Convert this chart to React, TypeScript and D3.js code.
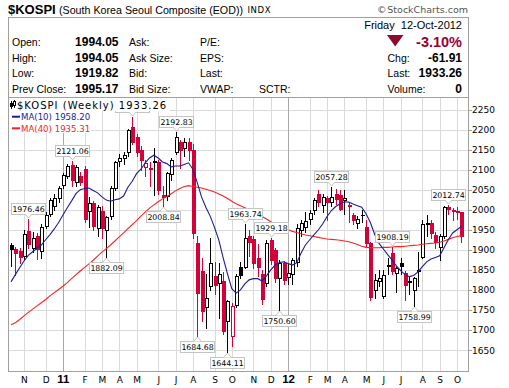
import React from "react";
import * as d3 from "d3";

// Weekly bars, first week starting Monday 11-Oct-2010
const firstMonday = new Date(2010, 9, 11);
const priorClose = 1890;

const opens = [
  1911, 1902, 1897, 1885, 1946, 1905, 1935, 1898, 1960, 1990,
  2010, 2028, 2062, 2085, 2112, 2070, 2085, 2102, 1998, 2016,
  1955, 1998, 1950, 1985, 2055, 2122, 2128, 2143, 2207, 2182,
  2150, 2107, 2104, 2118, 2120, 2036, 2033, 2088, 2144, 2170,
  2153, 2168, 2150, 1917, 1846, 1757, 1809, 1835, 1817, 1821,
  1722, 1685, 1763, 1858, 1858, 1935, 1928, 1880, 1840, 1817,
  1925, 1900, 1829, 1866, 1833, 1840, 1870, 1950, 1958, 1978,
  2000, 2040, 2012, 2028, 2020, 2040, 2036, 2024, 2012, 1988,
  1966, 1987, 1958, 1916, 1800, 1821, 1784, 1860, 1892, 1842,
  1867, 1842, 1820, 1800, 1848, 1883, 1965, 1968, 1937, 1906,
  1935, 2006, 2000, 1997, 1994.05,
];
const highs = [
  1918, 1906, 1905, 1950, 1976.46, 1945, 1942, 1965, 1995, 2030,
  2038, 2058, 2092, 2115, 2121.06, 2112, 2095, 2108, 2032, 2022,
  2012, 2010, 1985, 2058, 2122, 2138, 2145, 2202, 2231.47, 2190,
  2158, 2125, 2120, 2154, 2125, 2060, 2095, 2128, 2192.83, 2175,
  2180, 2178, 2165, 1935, 1880, 1840, 1930, 1870, 1867, 1845,
  1775, 1768, 1840, 1870, 1963.74, 1950, 1935, 1915, 1850, 1925,
  1929.18, 1905, 1875, 1872, 1865, 1880, 1965, 1975, 1995, 2000,
  2030, 2048, 2040, 2035, 2057.28, 2052, 2048, 2050, 2020, 1992,
  1985, 2000, 1975, 1920, 1840, 1850, 1850, 1880, 1908.19, 1860,
  1880, 1848, 1835, 1832, 1895, 1975, 1987, 1975, 1945, 1940,
  2010, 2012.74, 2005, 2008, 1994.05,
];
const lows = [
  1860, 1838, 1868, 1878, 1905, 1895, 1878, 1880, 1955, 1985,
  2000, 2020, 2055, 2078, 2060, 2058, 2062, 1970, 1958, 1950,
  1935, 1930, 1882.09, 1978, 2050, 2110, 2115, 2135, 2165, 2135,
  2100, 2085, 2060, 2037, 2040, 2008.84, 2025, 2075, 2140, 2105,
  2135, 2125, 1930, 1684.68, 1722, 1705, 1800, 1790, 1730, 1690,
  1644.11, 1660, 1758, 1830, 1855, 1885, 1855, 1835, 1765, 1810,
  1865, 1820, 1750.6, 1815, 1815, 1815, 1860, 1935, 1945, 1965,
  1990, 2010, 1995, 1974, 2010, 2015, 2000, 1990, 1970, 1965,
  1955, 1970, 1910, 1775, 1780, 1810, 1780, 1840, 1840, 1795,
  1840, 1775, 1790, 1758.99, 1810, 1880, 1935, 1930, 1905, 1875,
  1930, 1990, 1975, 1978, 1919.82,
];
const closes = [
  1902, 1893, 1883, 1940, 1915, 1930, 1901, 1958, 1987, 2024,
  2030, 2053, 2086, 2108, 2075, 2107, 2070, 1978, 2016, 1960,
  2006, 1955, 1982, 2053, 2119, 2130, 2137, 2198, 2170, 2145,
  2124, 2116, 2102, 2121, 2048, 2032, 2091, 2124, 2182, 2148,
  2170, 2148, 1943, 1793, 1747, 1780, 1867, 1813, 1840, 1697,
  1771, 1759, 1834, 1838, 1929, 1920, 1868, 1858, 1776, 1916,
  1875, 1830, 1866, 1825, 1843, 1875, 1955, 1966, 1972, 1993,
  2024, 2020, 2032, 2020, 2032, 2026, 2003, 2029, 2010, 1974,
  1976, 1988, 1916, 1782, 1825, 1830, 1836, 1862, 1846, 1854,
  1859, 1813, 1821, 1829, 1849, 1965, 1966, 1941, 1920, 1935,
  2007, 2003, 1996, 1995.17, 1933.26,
];
const ma10 = [
  1820, 1838, 1855, 1872, 1886, 1895, 1904, 1912, 1925, 1938,
  1952, 1968, 1987, 2005, 2022, 2040, 2050, 2053, 2054, 2048,
  2042, 2032, 2024, 2021, 2025, 2027, 2034, 2056, 2071, 2090,
  2101, 2117, 2129, 2136, 2129, 2119, 2115, 2107, 2109, 2109,
  2113, 2117, 2101, 2068, 2032, 2006, 1984, 1956, 1924, 1880,
  1840, 1803, 1792, 1800, 1815, 1825, 1828, 1828, 1822, 1835,
  1850, 1862, 1868, 1870, 1866, 1862, 1868, 1892, 1912, 1925,
  1938, 1950, 1965, 1983, 1998, 2008, 2015, 2020, 2019, 2014,
  2010, 2006, 1990, 1968, 1938, 1916, 1902, 1888, 1875, 1860,
  1848, 1838, 1833, 1836, 1845, 1858, 1870, 1877, 1881, 1885,
  1905, 1925, 1942, 1950, 1958.2,
];
const ma40 = [
  1713, 1718, 1726, 1735, 1744, 1752, 1760, 1768, 1776, 1785,
  1793, 1801, 1809, 1818, 1828, 1838, 1847, 1856, 1865, 1874,
  1884, 1894, 1903, 1912, 1922, 1932, 1942, 1953, 1963, 1973,
  1984, 1994, 2004, 2012, 2020, 2027, 2033, 2040, 2047, 2053,
  2058, 2060, 2058, 2056, 2054, 2051, 2048, 2044, 2039, 2034,
  2028, 2021, 2015, 2010, 2005, 2000, 1995, 1989, 1983, 1977,
  1970, 1964, 1958, 1954, 1950, 1946, 1943, 1940, 1937, 1935,
  1933, 1931, 1929, 1927, 1926, 1925, 1924, 1922, 1920, 1917,
  1913, 1909, 1906, 1905, 1905, 1905, 1906, 1906, 1907, 1908,
  1908, 1909, 1910, 1911, 1912, 1914, 1915, 1916, 1917, 1919,
  1922, 1926, 1930, 1933, 1935.31,
];
const highLabelWeeks = [4, 14, 38, 54, 60, 74, 88, 101];
const hiddenHighWeek = 28; // its label sits under the legend; only the pointer shows
const lowLabelWeeks = [22, 35, 43, 50, 62, 93];
const yTicks = [1650, 1700, 1750, 1800, 1850, 1900, 1950, 2000, 2050, 2100, 2150, 2200, 2250];
const monthLetters = ["J", "F", "M", "A", "M", "J", "J", "A", "S", "O", "N", "D"];

const RED = "#d4003a";
const BLACK = "#000000";
const NAVY = "#1c1c96";
const MA_RED = "#ff2020";
const GRID = "#dadada";
const YEAR_GRID = "#a8a8a8";
const SANS = "'Liberation Sans', Arial, sans-serif";
const VERD = "'DejaVu Sans', Verdana, sans-serif";

const L = 8.5, R = 468.5, T = 97.5, B = 371.5;

function Annotation({ cx, py, text, high }: { cx: number; py: number; text: string; high: boolean }) {
  const w = 34, h = 11;
  const bx = Math.round(cx - w / 2) + 0.5;
  const tip = high ? Math.round(py) - 1 : Math.round(py) + 1;
  const by = high ? tip - 4 - h : tip + 4;
  const baseY = high ? tip - 4 : tip + 4;
  const c = Math.round(cx) + 0.5;
  return (
    <g>
      <rect x={bx} y={Math.round(by) + 0.5} width={w} height={h} fill="#fff" stroke="#c4c4c4" />
      <polygon points={`${c - 3.5},${baseY + (high ? -0.5 : 0.5)} ${c},${tip} ${c + 3.5},${baseY + (high ? -0.5 : 0.5)}`} fill="#fff" stroke="none" />
      <polyline points={`${c - 3.5},${baseY} ${c},${tip} ${c + 3.5},${baseY}`} fill="none" stroke="#c4c4c4" />
      {text ? (
        <text x={bx + w / 2} y={Math.round(by) + 9} textAnchor="middle" fontFamily={VERD} fontSize={7.8} fill="#000">
          {text}
        </text>
      ) : null}
    </g>
  );
}

export default function App() {
  const n = closes.length;
  const x = d3.scaleLinear().domain([0, n - 1]).range([11, 461.3]);
  const y = d3.scaleLinear().domain([1650, 2250]).range([350, 109.5]);
  const dates = d3.range(n).map((i) => d3.timeDay.offset(firstMonday, 7 * i));
  const monthIdx = dates
    .map((d, i) => (i > 0 && d.getMonth() !== dates[i - 1].getMonth() ? i : -1))
    .filter((i) => i >= 0);

  const line = d3
    .line<number>()
    .x((_, i) => x(i))
    .y((d) => y(d))
    .curve(d3.curveLinear);

  const fmt = d3.format(".2f");

  return (
    <svg width={509} height={388} style={{ position: "absolute", left: 0, top: 0, background: "#fff" }}>
      <rect x={0} y={0} width={509} height={388} fill="#fff" />
      {/* Title */}
      <text x={8} y={13.5} fontFamily={SANS} fontWeight="bold" fontSize={13}>$KOSPI</text>
      <text x={59} y={13.5} fontFamily={SANS} fontSize={10.5} textLength={184} lengthAdjust="spacingAndGlyphs">
        (South Korea Seoul Composite (EOD))
      </text>
      <text x={247.5} y={13} fontFamily={VERD} fontSize={8.5} letterSpacing={0.6}>INDX</text>
      <text x={377} y={13} fontFamily={VERD} fontSize={9.5} fill="#555">©</text>
      <text x={468} y={13} textAnchor="end" fontFamily={VERD} fontSize={9.5} fill="#555">StockCharts.com</text>

      {/* Header box */}
      <rect x={8.5} y={17.5} width={460} height={80} fill="#fff" stroke="#a0a0a0" />
      <text x={462} y={29} textAnchor="end" fontFamily={SANS} fontSize={11} style={{ whiteSpace: "pre" }}>
        {"Friday  12-Oct-2012"}
      </text>
      {[
        ["Open:", "1994.05", "Ask:", "P/E:"],
        ["High:", "1994.05", "Ask Size:", "EPS:"],
        ["Low:", "1919.82", "Bid:", "Last:"],
        ["Prev Close:", "1995.17", "Bid Size:", "VWAP:"],
      ].map((row, r) => {
        const by = 46 + r * 15.6;
        return (
          <g key={r} fontFamily={SANS}>
            <text x={12} y={by} fontSize={10.5}>{row[0]}</text>
            <text x={118.5} y={by} fontSize={12} fontWeight="bold" textAnchor="end">{row[1]}</text>
            <text x={129} y={by} fontSize={10.5}>{row[2]}</text>
            <text x={200} y={by} fontSize={10.5}>{row[3]}</text>
          </g>
        );
      })}
      <text x={259} y={46 + 3 * 15.6} fontFamily={SANS} fontSize={10.5}>SCTR:</text>
      <polygon points="387,35 403.5,35 395.2,46.5" fill="#8c0a2e" />
      <text x={462} y={46.5} textAnchor="end" fontFamily={SANS} fontSize={14.5} fontWeight="bold" fill="#990033">-3.10%</text>
      {[
        ["Chg:", "-61.91"],
        ["Last:", "1933.26"],
        ["Volume:", "0"],
      ].map((row, r) => {
        const by = 46 + (r + 1) * 15.6;
        return (
          <g key={r} fontFamily={SANS}>
            <text x={387.5} y={by} fontSize={10.5}>{row[0]}</text>
            <text x={462} y={by} fontSize={12} fontWeight="bold" textAnchor="end">{row[1]}</text>
          </g>
        );
      })}

      {/* Plot area */}
      <defs>
        <clipPath id="plotclip">
          <rect x={L} y={T} width={R - L} height={B - T} />
        </clipPath>
      </defs>
      <rect x={L} y={T} width={R - L} height={B - T} fill="#fff" />
      <g shapeRendering="crispEdges">
        {yTicks.map((v) => (
          <line key={v} x1={L} x2={R} y1={Math.round(y(v)) + 0.5} y2={Math.round(y(v)) + 0.5} stroke={GRID} />
        ))}
        {monthIdx.map((i) => (
          <line
            key={i}
            x1={Math.round(x(i)) + 0.5}
            x2={Math.round(x(i)) + 0.5}
            y1={T}
            y2={B}
            stroke={dates[i].getMonth() === 0 ? YEAR_GRID : GRID}
          />
        ))}
      </g>

      {/* Candles */}
      <g clipPath="url(#plotclip)" shapeRendering="crispEdges">
        {closes.map((c, i) => {
          const o = opens[i];
          const prev = i === 0 ? priorClose : closes[i - 1];
          const col = c < prev ? RED : BLACK;
          const hollow = c > o;
          const cx = Math.round(x(i));
          const top = Math.round(y(Math.max(o, c)));
          const bot = Math.round(y(Math.min(o, c)));
          return (
            <g key={i}>
              <line x1={cx + 0.5} x2={cx + 0.5} y1={Math.round(y(highs[i]))} y2={Math.round(y(lows[i])) + 1} stroke={col} />
              {bot - top >= 1 ? (
                <rect x={cx - 0.5} y={top + 0.5} width={3} height={bot - top} fill={hollow ? "#fff" : col} stroke={col} />
              ) : (
                <line x1={cx - 1} x2={cx + 3} y1={top + 0.5} y2={top + 0.5} stroke={col} />
              )}
            </g>
          );
        })}
      </g>

      {/* Moving averages */}
      <g clipPath="url(#plotclip)" fill="none">
        <path d={line(ma40) || ""} stroke={MA_RED} strokeWidth={1.1} />
        <path d={line(ma10) || ""} stroke={NAVY} strokeWidth={1.1} />
      </g>

      {/* Annotations */}
      <Annotation cx={x(hiddenHighWeek)} py={y(highs[hiddenHighWeek])} text="" high={true} />
      {highLabelWeeks.map((i) => (
        <Annotation key={"h" + i} cx={x(i)} py={y(highs[i])} text={fmt(highs[i])} high={true} />
      ))}
      {lowLabelWeeks.map((i) => (
        <Annotation key={"l" + i} cx={x(i)} py={y(lows[i])} text={fmt(lows[i])} high={false} />
      ))}

      {/* Frame */}
      <rect x={L} y={T} width={R - L} height={B - T} fill="none" stroke="#a0a0a0" shapeRendering="crispEdges" />
      {yTicks.map((v) => (
        <g key={v}>
          <line x1={R} x2={R + 3} y1={Math.round(y(v)) + 0.5} y2={Math.round(y(v)) + 0.5} stroke="#a0a0a0" shapeRendering="crispEdges" />
          <text x={472} y={y(v) + 3.5} fontFamily={VERD} fontSize={9} fill="#000">{v}</text>
        </g>
      ))}
      {monthIdx.map((i) => {
        const d = dates[i];
        const isYear = d.getMonth() === 0;
        return (
          <text
            key={i}
            x={x(i) + 0.5}
            y={383}
            textAnchor="middle"
            fontFamily={isYear ? SANS : VERD}
            fontWeight={isYear ? "bold" : "normal"}
            fontSize={isYear ? 11.5 : 9}
          >
            {isYear ? String(d.getFullYear()).slice(2) : monthLetters[d.getMonth()]}
          </text>
        );
      })}

      {/* Legend */}
      <rect x={9} y={98} width={161} height={13} fill="#fff" />
      <rect x={9} y={111} width={82} height={22} fill="#fff" />
      <g shapeRendering="crispEdges">
        <line x1={11.5} x2={11.5} y1={101} y2={109} stroke="#000" />
        <rect x={10.5} y={103.5} width={2} height={3} fill="#000" stroke="#000" />
        <line x1={14.5} x2={14.5} y1={100} y2={108} stroke="#000" />
        <rect x={13.5} y={101.5} width={2} height={4} fill="#fff" stroke="#000" />
      </g>
      <text x={17} y={109} fontFamily={VERD} fontSize={10} letterSpacing={1}>$KOSPI (Weekly) 1933.26</text>
      <line x1={12} x2={20} y1={116.7} y2={116.7} stroke={NAVY} strokeWidth={2} />
      <text x={21} y={120} fontFamily={VERD} fontSize={8.6} fill={NAVY}>MA(10) 1958.20</text>
      <line x1={12} x2={20} y1={128.3} y2={128.3} stroke={MA_RED} strokeWidth={2} />
      <text x={21} y={131.6} fontFamily={VERD} fontSize={8.6} fill={MA_RED}>MA(40) 1935.31</text>
    </svg>
  );
}
